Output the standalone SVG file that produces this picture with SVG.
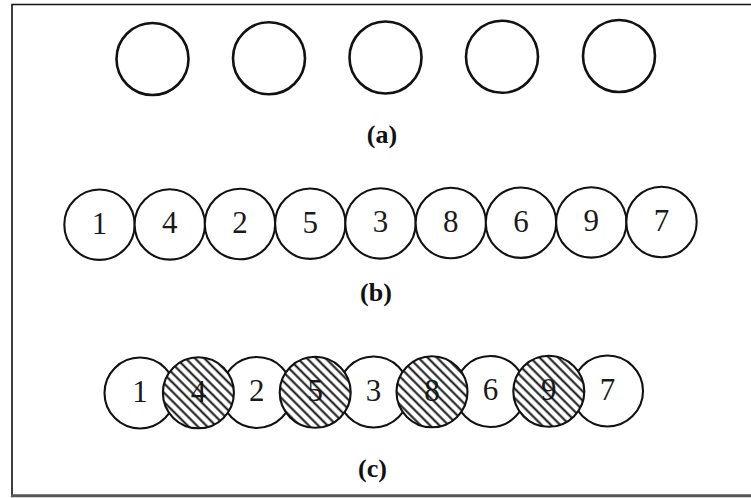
<svg xmlns="http://www.w3.org/2000/svg" width="751" height="498" viewBox="0 0 751 498">
  <defs>
    <pattern id="hatch" patternUnits="userSpaceOnUse" width="6.6" height="6.6" patternTransform="rotate(-45)">
      <line x1="3.3" y1="-1" x2="3.3" y2="8" stroke="#111" stroke-width="2"/>
    </pattern>
  </defs>
  <style>
    .ring-a { fill: #fff; stroke: #111; stroke-width: 2.6; }
    .ring { fill: #fff; stroke: #111; stroke-width: 2.1; }
    .hatched { fill: url(#hatch); stroke: #111; stroke-width: 2.1; }
    .num { font-family: "Liberation Serif", "Times New Roman", serif; font-size: 31px; fill: #1a1a1a; text-anchor: middle; }
    .cap { font-family: "Liberation Serif", "Times New Roman", serif; font-size: 26px; font-weight: bold; fill: #111; text-anchor: middle; }
  </style>

  <!-- frame -->
  <rect x="0" y="0" width="751" height="498" fill="#fff"/>
  <path d="M 12 497 L 12 4.5 L 751 4.5" fill="none" stroke="#111" stroke-width="1.6"/>
  <line x1="11" y1="495.8" x2="751" y2="495.8" stroke="#555" stroke-width="3"/>

  <!-- (a) separate discs -->
  <g id="row-a">
    <g id="a1"><circle class="ring-a" cx="152.5" cy="59" r="36"/></g>
    <g id="a2"><circle class="ring-a" cx="269" cy="58.3" r="36"/></g>
    <g id="a3"><circle class="ring-a" cx="385.5" cy="57.5" r="36"/></g>
    <g id="a4"><circle class="ring-a" cx="502" cy="56.8" r="36"/></g>
    <g id="a5"><circle class="ring-a" cx="619" cy="56" r="36"/></g>
    <text class="cap" x="382" y="143">(a)</text>
  </g>

  <!-- (b) touching discs -->
  <g id="row-b">
    <g id="b1"><circle class="ring" cx="99.5" cy="224.7" r="35.2"/><text class="num" x="99.5" y="233.5">1</text></g>
    <g id="b4"><circle class="ring" cx="169.8" cy="224.4" r="35.2"/><text class="num" x="169.8" y="233.2">4</text></g>
    <g id="b2"><circle class="ring" cx="240" cy="224" r="35.2"/><text class="num" x="240" y="232.8">2</text></g>
    <g id="b5"><circle class="ring" cx="310.3" cy="223.7" r="35.2"/><text class="num" x="310.3" y="232.5">5</text></g>
    <g id="b3"><circle class="ring" cx="380.5" cy="223.4" r="35.2"/><text class="num" x="380.5" y="232.2">3</text></g>
    <g id="b8"><circle class="ring" cx="450.8" cy="223" r="35.2"/><text class="num" x="450.8" y="231.8">8</text></g>
    <g id="b6"><circle class="ring" cx="521" cy="222.7" r="35.2"/><text class="num" x="521" y="231.5">6</text></g>
    <g id="b9"><circle class="ring" cx="591.3" cy="222.4" r="35.2"/><text class="num" x="591.3" y="231.2">9</text></g>
    <g id="b7"><circle class="ring" cx="661.5" cy="222" r="35.2"/><text class="num" x="661.5" y="230.8">7</text></g>
    <text class="cap" x="376" y="301">(b)</text>
  </g>

  <!-- (c) overlapping discs, shaded ones on top -->
  <g id="row-c">
    <g id="c1"><circle class="ring" cx="140" cy="393" r="35.5"/><text class="num" x="140" y="401.8">1</text></g>
    <g id="c2"><circle class="ring" cx="256.8" cy="392.5" r="35.5"/><text class="num" x="256.8" y="401.3">2</text></g>
    <g id="c3"><circle class="ring" cx="373.6" cy="392" r="35.5"/><text class="num" x="373.6" y="400.8">3</text></g>
    <g id="c6"><circle class="ring" cx="490.4" cy="391.5" r="35.5"/><text class="num" x="490.4" y="400.3">6</text></g>
    <g id="c7"><circle class="ring" cx="607.5" cy="391" r="35.5"/><text class="num" x="607.5" y="399.8">7</text></g>
    <g id="c4"><circle cx="198.4" cy="392.8" r="35.5" fill="#fff"/><text class="num" x="198.4" y="401.6">4</text><circle class="hatched" cx="198.4" cy="392.8" r="35.5"/></g>
    <g id="c5"><circle cx="315.2" cy="392.3" r="35.5" fill="#fff"/><text class="num" x="315.2" y="401.1">5</text><circle class="hatched" cx="315.2" cy="392.3" r="35.5"/></g>
    <g id="c8"><circle cx="432" cy="391.8" r="35.5" fill="#fff"/><text class="num" x="432" y="400.6">8</text><circle class="hatched" cx="432" cy="391.8" r="35.5"/></g>
    <g id="c9"><circle cx="548.8" cy="391.3" r="35.5" fill="#fff"/><text class="num" x="548.8" y="400.1">9</text><circle class="hatched" cx="548.8" cy="391.3" r="35.5"/></g>
    <text class="cap" x="372.5" y="477">(c)</text>
  </g>
</svg>
